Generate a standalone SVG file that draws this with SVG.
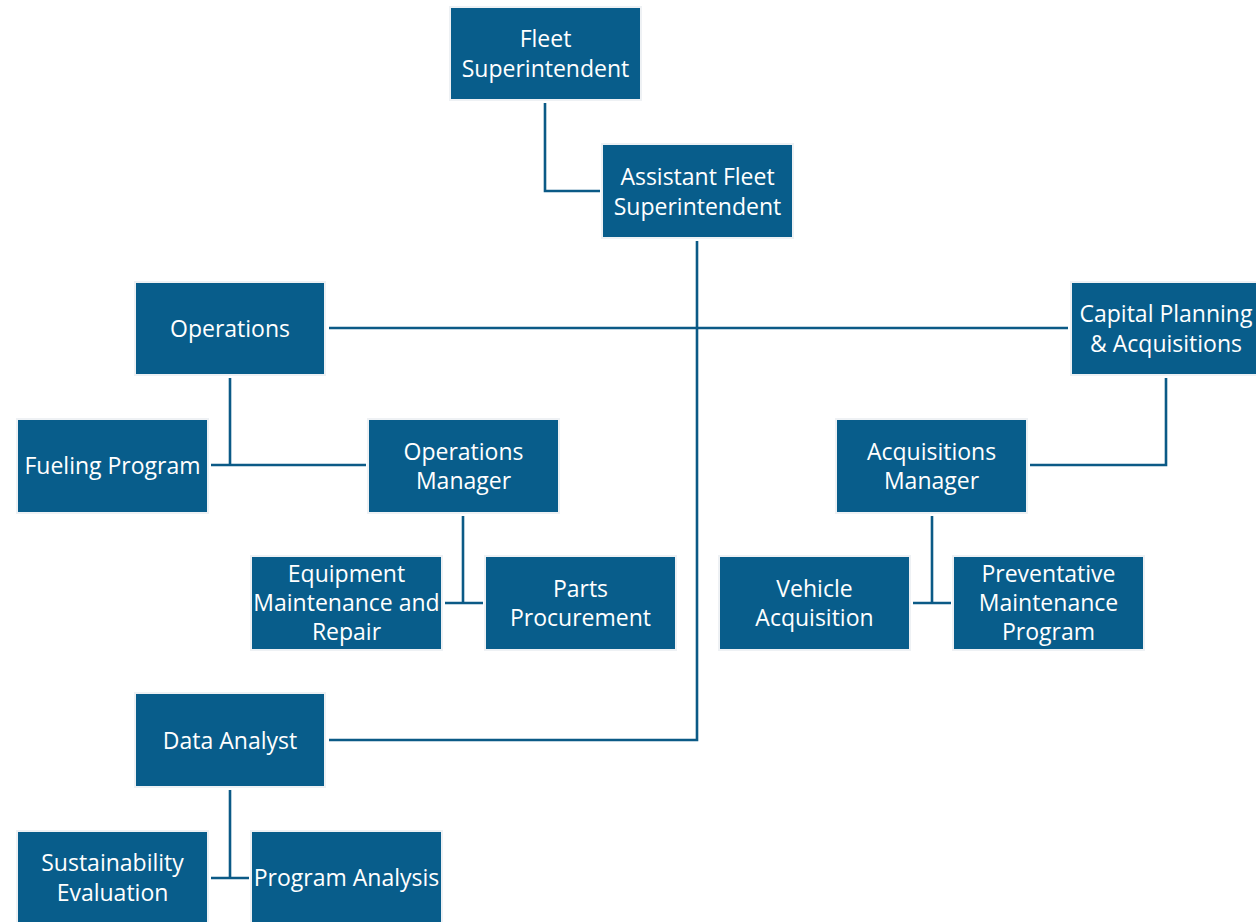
<svg xmlns="http://www.w3.org/2000/svg" width="1256" height="922" viewBox="0 0 1256 922">
<style>
.box{fill:#085d8b;stroke:#eef1f4;stroke-width:2}
.t{fill:#ffffff;font-family:"Open Sans","Liberation Sans",sans-serif;font-size:23px;text-anchor:middle;dominant-baseline:central}
.c{fill:none;stroke:#0b5a86;stroke-width:2.6}
</style>
<rect width="1256" height="922" fill="#ffffff"/>
<g id="connectors">
<polyline class="c" points="545,103 545,191 600,191"/>
<polyline class="c" points="697,241 697,740 329,740"/>
<line class="c" x1="329" y1="328" x2="1068" y2="328"/>
<polyline class="c" points="230,378 230,465"/>
<line class="c" x1="211" y1="465" x2="366" y2="465"/>
<polyline class="c" points="463,516 463,603"/>
<line class="c" x1="445" y1="603" x2="483" y2="603"/>
<polyline class="c" points="1166,378 1166,465 1030,465"/>
<polyline class="c" points="932,516 932,603"/>
<line class="c" x1="913" y1="603" x2="951" y2="603"/>
<polyline class="c" points="230,790 230,878"/>
<line class="c" x1="211" y1="878" x2="249" y2="878"/>
</g>
<g id="fleet-superintendent"><rect class="box" x="450" y="7" width="191" height="93"/><text class="t" x="545.5" y="38">Fleet</text><text class="t" x="545.5" y="68">Superintendent</text></g>
<g id="assistant-fleet-superintendent"><rect class="box" x="602" y="144" width="191" height="94"/><text class="t" x="697.5" y="176">Assistant Fleet</text><text class="t" x="697.5" y="206">Superintendent</text></g>
<g id="operations"><rect class="box" x="135" y="282" width="190" height="93"/><text class="t" x="230" y="328">Operations</text></g>
<g id="capital-planning"><rect class="box" x="1071" y="282" width="190" height="93"/><text class="t" x="1166" y="313">Capital Planning</text><text class="t" x="1166" y="343">&amp; Acquisitions</text></g>
<g id="fueling-program"><rect class="box" x="17" y="419" width="191" height="94"/><text class="t" x="112.5" y="465">Fueling Program</text></g>
<g id="operations-manager"><rect class="box" x="368" y="419" width="191" height="94"/><text class="t" x="463.5" y="451">Operations</text><text class="t" x="463.5" y="480">Manager</text></g>
<g id="acquisitions-manager"><rect class="box" x="836" y="419" width="191" height="94"/><text class="t" x="931.5" y="451">Acquisitions</text><text class="t" x="931.5" y="480">Manager</text></g>
<g id="equipment-maintenance"><rect class="box" x="251" y="556" width="191" height="94"/><text class="t" x="346.5" y="573">Equipment</text><text class="t" x="346.5" y="602">Maintenance and</text><text class="t" x="346.5" y="631">Repair</text></g>
<g id="parts-procurement"><rect class="box" x="485" y="556" width="191" height="94"/><text class="t" x="580.5" y="588">Parts</text><text class="t" x="580.5" y="617">Procurement</text></g>
<g id="vehicle-acquisition"><rect class="box" x="719" y="556" width="191" height="94"/><text class="t" x="814.5" y="588">Vehicle</text><text class="t" x="814.5" y="617">Acquisition</text></g>
<g id="preventative-maintenance"><rect class="box" x="953" y="556" width="191" height="94"/><text class="t" x="1048.5" y="573">Preventative</text><text class="t" x="1048.5" y="602">Maintenance</text><text class="t" x="1048.5" y="631">Program</text></g>
<g id="data-analyst"><rect class="box" x="135" y="693" width="190" height="94"/><text class="t" x="230" y="740">Data Analyst</text></g>
<g id="sustainability-evaluation"><rect class="box" x="17" y="831" width="191" height="94"/><text class="t" x="112.5" y="862">Sustainability</text><text class="t" x="112.5" y="892">Evaluation</text></g>
<g id="program-analysis"><rect class="box" x="251" y="831" width="191" height="94"/><text class="t" x="346.5" y="877">Program Analysis</text></g>
</svg>
